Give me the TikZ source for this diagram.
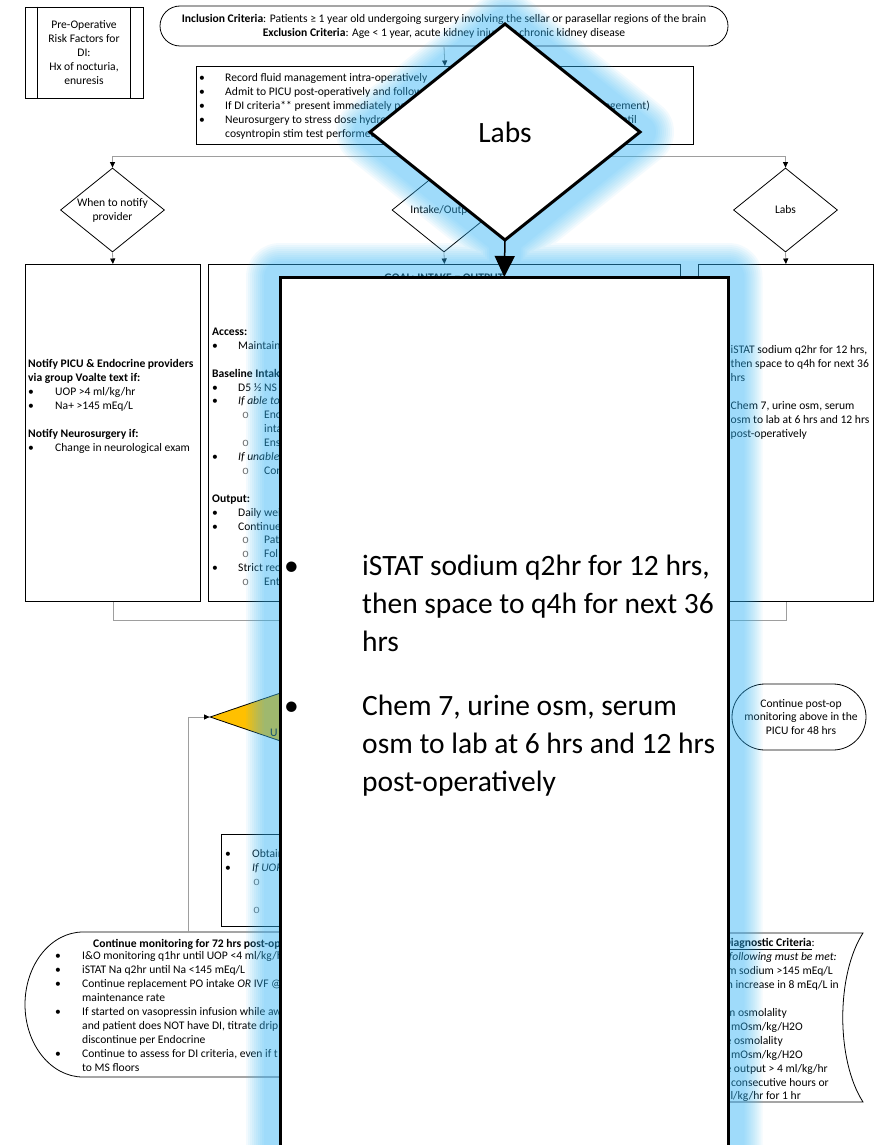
\documentclass[tikz,border=0pt]{standalone}
\usepackage{fontspec}
\setmainfont{Carlito}
\setmonofont{Liberation Mono}
\usetikzlibrary{shapes.geometric,arrows.meta}
\definecolor{glowc}{rgb}{0.2,0.72,0.98}
\definecolor{linkc}{gray}{0.62}
\definecolor{dorange}{HTML}{FFC000}
\newcommand\dfont{\fontsize{11.6}{13.9}\selectfont}
\newcommand\bigfont{\fontsize{29.5}{38}\selectfont}
\newcommand\subo{{\color{black!55}\ttfamily o}}

\begin{document}
\begin{tikzpicture}[x=1pt,y=-1pt,
  every node/.style={font=\dfont},
  shp/.style={draw=black, line width=0.8pt},
  box/.style={shp, rectangle, inner sep=0pt, fill=white},
  dia/.style={shp, diamond, inner sep=0pt, fill=white},
  t/.style={inner sep=0pt, anchor=base west},
  te/.style={inner sep=0pt, anchor=base east},
  link/.style={draw=linkc, line width=0.8pt},
  arr/.style={-{Triangle[length=5.5pt,width=5pt,color=black]}},
]
\useasboundingbox (0,0) rectangle (884,1145);
\clip (0,0) rectangle (884,1145);
\fill[white] (0,0) rectangle (884,1145);

% ---------- pre-operative risk factors
\node[box, minimum width=118pt, minimum height=91pt] (po) at (84,52.5) {};
\draw[shp] ([xshift=13pt]po.north west) -- ([xshift=13pt]po.south west);
\draw[shp] ([xshift=-13pt]po.north east) -- ([xshift=-13pt]po.south east);
\node[align=center, inner sep=0pt] (pot) at (84,52.5) {Pre-Operative\\Risk Factors for\\DI:\\Hx of nocturia,\\enuresis};

% ---------- inclusion / exclusion terminator
\node[box, rounded corners=20pt, minimum width=568pt, minimum height=40pt] (inc) at (444,26) {};
\node[align=center, inner sep=0pt] (inct) at (444,26.5) {\textbf{Inclusion Criteria}: Patients ≥ 1 year old undergoing surgery involving the sellar or parasellar regions of the brain\\\textbf{Exclusion Criteria}: Age < 1 year, acute kidney injury or chronic kidney disease};

% ---------- intra-operative instructions
\node[box, anchor=north west, minimum width=497pt, minimum height=78pt] (ib) at (196,66) {};
\node[t] (ib1b) at (199,82) {•};
\node[t] (ib1) at (225,82) {Record fluid management intra-operatively};
\node[t] (ib2b) at (199,95.5) {•};
\node[t] (ib2) at (225,95.5) {Admit to PICU post-operatively and follow};
\node[t] (ib3b) at (199,109.5) {•};
\node[t] (ib3) at (225,109.5) {If DI criteria** present immediately page};
\node[te] (ib3r) at (650,109.5) {management)};
\node[t] (ib4b) at (199,123.5) {•};
\node[t] (ib4) at (225,123.5) {Neurosurgery to stress dose hydrocortisone};
\node[te] (ib4r) at (637,123.5) {until};
\node[t] (ib5) at (225,137) {cosyntropin stim test performed};

% ---------- decision diamonds
\node[dia, minimum width=104pt, minimum height=84pt] (d1) at (112.5,210) {};
\node[align=center, inner sep=0pt] (d1t) at (112.5,210) {When to notify\\provider};
\node[dia, minimum width=104pt, minimum height=84pt] (d2) at (444,210) {};
\node[inner sep=0pt] (d2t) at (444,210) {Intake/Output};
\node[dia, minimum width=104pt, minimum height=84pt] (d3) at (785.5,210) {};
\node[inner sep=0pt] (d3t) at (785.5,210) {Labs};

% ---------- detail boxes
\node[box, anchor=north west, minimum width=175pt, minimum height=337pt] (lb) at (25,264) {};
\node[box, anchor=north west, minimum width=472pt, minimum height=337pt] (mb) at (208,264) {};
\node[box, anchor=north west, minimum width=175pt, minimum height=337pt] (rb) at (698,264) {};

% ---------- connectors, top part
\draw[link, arr] (inc.south) -- (ib.north);
\coordinate (hub) at (444,156);
\draw[link] (ib.south) -- (hub);
\draw[link, arr] (hub) -| (d1.north);
\draw[link, arr] (hub) -| (d3.north);
\draw[link, arr] (hub) -- (d2.north);
\draw[link, arr] (d1.south) -- (lb.north);
\draw[link, arr] (d2.south) -- (mb.north);
\draw[link, arr] (d3.south) -- (rb.north);
\draw[link] (lb.south) -- ++(0,19) -| (rb.south);

% ---------- notify box
\node[t] (lb1) at (28,367) {\textbf{Notify PICU \& Endocrine providers}};
\node[t] (lb2) at (28,381) {\textbf{via group Voalte text if:}};
\node[t] (lb3b) at (28,395) {•};
\node[t] (lb3) at (55,395) {UOP >4 ml/kg/hr};
\node[t] (lb4b) at (28,409) {•};
\node[t] (lb4) at (55,409) {Na+ >145 mEq/L};
\node[t] (lb5) at (28,437) {\textbf{Notify Neurosurgery if:}};
\node[t] (lb6b) at (28,451) {•};
\node[t] (lb6) at (55,451) {Change in neurological exam};

% ---------- intake / output box
\node[inner sep=0pt, anchor=base] (mgoal) at (444,281.5) {\textbf{GOAL: INTAKE = OUTPUT}};
\node[t] (m1) at (212,335) {\textbf{Access:}};
\node[t] (m2b) at (212,349) {•};
\node[t] (m2) at (238,349) {Maintain};
\node[t] (m3) at (212,377) {\textbf{Baseline Intake}};
\node[t] (m4b) at (212,391) {•};
\node[t] (m4) at (238,391) {D5 ½ NS};
\node[t] (m5b) at (212,404.5) {•};
\node[t] (m5) at (238,404.5) {\textit{If able to}};
\node[t] (m6b) at (242,418.5) {\subo};
\node[t] (m6) at (264,418.5) {Encourage};
\node[t] (m7) at (264,432.5) {intake};
\node[t] (m8b) at (242,446) {\subo};
\node[t] (m8) at (264,446) {Ensure};
\node[t] (m9b) at (212,460) {•};
\node[t] (m9) at (238,460) {\textit{If unable}};
\node[t] (m10b) at (242,474) {\subo};
\node[t] (m10) at (264,474) {Con};
\node[t] (m11) at (212,502) {\textbf{Output:}};
\node[t] (m12b) at (212,516) {•};
\node[t] (m12) at (238,516) {Daily weight};
\node[t] (m13b) at (212,530) {•};
\node[t] (m13) at (238,530) {Continue};
\node[t] (m14b) at (242,543.5) {\subo};
\node[t] (m14) at (264,543.5) {Pat};
\node[t] (m15b) at (242,557.5) {\subo};
\node[t] (m15) at (264,557.5) {Fol};
\node[t] (m16b) at (212,571.5) {•};
\node[t] (m16) at (238,571.5) {Strict rec};
\node[t] (m17b) at (242,585) {\subo};
\node[t] (m17) at (264,585) {Ent};

% ---------- labs box
\node[t] (r1) at (730.5,353) {iSTAT sodium q2hr for 12 hrs,};
\node[t] (r2) at (730.5,367) {then space to q4h for next 36};
\node[t] (r3) at (730.5,381) {hrs};
\node[t] (r4) at (730.5,409) {Chem 7, urine osm, serum};
\node[t] (r5) at (730.5,423) {osm to lab at 6 hrs and 12 hrs};
\node[t] (r6) at (730.5,437) {post-operatively};

% ---------- UOP decision and post-op monitoring
\node[shp, diamond, inner sep=0pt, fill=dorange, minimum width=468pt, minimum height=160pt] (cd) at (444,717) {};
\node[t] (cdt) at (270,736.5) {U};
\node[box, rounded corners=33pt, minimum width=134pt, minimum height=66pt] (cp) at (799,717) {};
\node[align=center, inner sep=0pt] (cpt) at (801,717) {Continue post-op\\monitoring above in the\\PICU for 48 hrs};

% ---------- obtain box
\node[box, anchor=north west, minimum width=380pt, minimum height=92pt] (ob) at (221,834) {};
\node[t] (ob1b) at (225,857) {•};
\node[t] (ob1) at (252,857) {Obtain};
\node[t] (ob2b) at (225,871) {•};
\node[t] (ob2) at (252,871) {\textit{If UOP}};
\node[t] (ob3b) at (253,885) {\subo};
\node[t] (ob4b) at (253,913) {\subo};

% ---------- continue monitoring display shape
\draw[shp, fill=white] (83,932) -- (600,932) -- (600,1077) -- (83,1077)
  .. controls (51,1077) and (25,1044.5) .. (25,1004.5)
  .. controls (25,964.5) and (51,932) .. (83,932) -- cycle;
\coordinate (cmT) at (188,932);
\draw[link, arr] (cmT) |- (cd.west);
\node[t] (cm0) at (93,947) {\textbf{Continue monitoring for 72 hrs post-op}};
\node[t] (cm1b) at (55,959) {•};
\node[t] (cm1) at (82,959) {I\&O monitoring q1hr until UOP <4 ml/kg/hr};
\node[t] (cm2b) at (55,973) {•};
\node[t] (cm2) at (82,973) {iSTAT Na q2hr until Na <145 mEq/L};
\node[t] (cm3b) at (55,987) {•};
\node[t] (cm3) at (82,987) {Continue replacement PO intake \textit{OR} IVF @};
\node[t] (cm4) at (82,1001) {maintenance rate};
\node[t] (cm5b) at (55,1015) {•};
\node[t] (cm5) at (82,1015) {If started on vasopressin infusion while aw};
\node[t] (cm6) at (82,1029) {and patient does NOT have DI, titrate drip};
\node[t] (cm7) at (82,1043) {discontinue per Endocrine};
\node[t] (cm8b) at (55,1057) {•};
\node[t] (cm8) at (82,1057) {Continue to assess for DI criteria, even if t};
\node[t] (cm9) at (82,1071) {to MS floors};

% ---------- diagnostic criteria shape
\draw[shp, fill=white] (600,933) -- (863,933) .. controls (836,975) and (836,1060) .. (863,1102) -- (600,1102) -- cycle;
\node[te] (dc1) at (815,946) {\textbf{\underline{Diagnostic Criteria}}:};
\node[te] (dc2) at (837,960) {\textit{following must be met:}};
\node[te] (dc3) at (833,974) {Serum sodium >145 mEq/L};
\node[te] (dc4) at (839,988) {an increase in 8 mEq/L in};
\node[te] (dc5) at (787,1016) {Serum osmolality};
\node[te] (dc6) at (803,1030) {mOsm/kg/H2O};
\node[te] (dc7) at (783,1044) {Urine osmolality};
\node[te] (dc8) at (803,1058) {mOsm/kg/H2O};
\node[te] (dc9) at (828,1072) {Urine output > 4 ml/kg/hr};
\node[te] (dc10) at (829,1086) {consecutive hours or};
\node[te] (dc11) at (801,1099) {ml/kg/hr for 1 hr};

% ---------- highlight glow around the enlarged labs view
\foreach \w in {32,36,40,44,48,52,56,60,64,68}
  \draw[glowc, draw opacity=0.058, line width=\w pt, line join=round, line cap=round]
    (505,24) -- (640,132) -- (505,240) -- (370,132) -- cycle
    (280,277) rectangle (728.5,1180)
    (505,240) -- (505,277);

% ---------- enlarged labs view
\node[dia, line width=3pt, outer sep=0pt, minimum width=270pt, minimum height=216pt] (bd) at (505,132) {};
\node[font=\bigfont, inner sep=0pt] (bdt) at (505,132) {Labs};
\node[box, line width=3pt, outer sep=0pt, anchor=north west, minimum width=448.5pt, minimum height=900pt] (bb) at (280,277) {};
\draw[line width=1.5pt, -{Triangle[length=21pt,width=20pt]}] (bd.south) -- (bb.north);
\node[t, font=\bigfont] (bb1b) at (284,575) {•};
\node[t, font=\bigfont] (bb1) at (362,575) {iSTAT sodium q2hr for 12 hrs,};
\node[t, font=\bigfont] (bb2) at (362,613) {then space to q4h for next 36};
\node[t, font=\bigfont] (bb3) at (362,651) {hrs};
\node[t, font=\bigfont] (bb4b) at (284,715) {•};
\node[t, font=\bigfont] (bb4) at (362,715) {Chem 7, urine osm, serum};
\node[t, font=\bigfont] (bb5) at (362,753) {osm to lab at 6 hrs and 12 hrs};
\node[t, font=\bigfont] (bb6) at (362,791) {post-operatively};
\end{tikzpicture}
\end{document}
